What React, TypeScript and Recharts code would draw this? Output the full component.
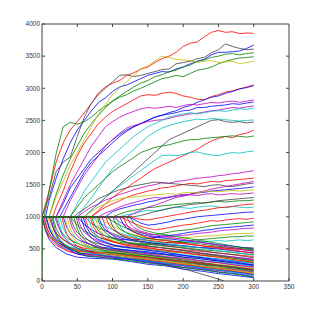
import { LineChart, Line, XAxis, YAxis, ReferenceLine } from "recharts";

const xTicks = [0, 50, 100, 150, 200, 250, 300, 350];
const yTicks = [0, 500, 1000, 1500, 2000, 2500, 3000, 3500, 4000];
const xMax = 350;
const yMax = 4000;

const initialLevel = 1000;
const gridStep = 10;

const palette: Record<string, string> = {
  r: "#ff0000",
  g: "#008000",
  b: "#0000ff",
  c: "#00bfbf",
  m: "#bf00bf",
  y: "#bfbf00",
  k: "#404040",
};

// upper group: flat at 1000 until start, then values on the 10-step grid
const riserStarts = [0, 5, 0, 10, 3, 10, 15, 20, 20, 25, 30, 40, 50, 60, 70, 40, 60];
const riserColors = "rbkggyrbmbmcckrgc";
const riserValues = [
  [1400, 1850, 2150, 2350, 2480, 2620, 2760, 2930, 3020, 3080, 3120, 3200, 3240, 3300, 3330, 3400, 3460, 3500, 3560, 3650, 3700, 3720, 3800, 3870, 3900, 3870, 3880, 3850, 3860, 3855],
  [1250, 1600, 1900, 2150, 2350, 2500, 2650, 2780, 2850, 2950, 3020, 3050, 3100, 3150, 3200, 3230, 3260, 3250, 3300, 3330, 3380, 3420, 3450, 3520, 3560, 3560, 3570, 3580, 3620, 3673],
  [1300, 1700, 1850, 1930, 2250, 2550, 2770, 2900, 3000, 3100, 3200, 3210, 3180, 3200, 3230, 3260, 3290, 3300, 3380, 3400, 3420, 3460, 3480, 3550, 3600, 3690, 3650, 3620, 3600, 3610],
  [1350, 1650, 1900, 2100, 2300, 2450, 2580, 2700, 2800, 2880, 2950, 3020, 3080, 3120, 3180, 3210, 3260, 3280, 3330, 3360, 3420, 3440, 3480, 3500, 3530, 3540, 3520, 3540, 3553],
  [1400, 1980, 2400, 2470, 2440, 2480, 2550, 2650, 2720, 2800, 2860, 2900, 2960, 3000, 3050, 3100, 3150, 3170, 3200, 3180, 3230, 3280, 3300, 3330, 3380, 3420, 3450, 3470, 3480, 3490],
  [1300, 1550, 1800, 2000, 2200, 2400, 2600, 2750, 2900, 3000, 3100, 3200, 3300, 3350, 3420, 3500, 3480, 3450, 3440, 3430, 3400, 3420, 3430, 3400, 3410, 3420, 3380, 3400, 3424],
  [1150, 1400, 1700, 1950, 2150, 2300, 2450, 2550, 2640, 2700, 2760, 2820, 2880, 2900, 2890, 2920, 2940, 2920, 2880, 2860, 2830, 2820, 2870, 2900, 2940, 2960, 2990, 3020, 3050],
  [1200, 1450, 1600, 1750, 1900, 2000, 2100, 2200, 2280, 2350, 2400, 2450, 2500, 2550, 2580, 2620, 2650, 2700, 2730, 2780, 2820, 2860, 2880, 2920, 2950, 2990, 3010, 3040],
  [1250, 1500, 1700, 1900, 2100, 2250, 2400, 2480, 2550, 2600, 2640, 2680, 2700, 2690, 2700, 2720, 2700, 2730, 2750, 2740, 2760, 2780, 2770, 2790, 2800, 2780, 2800, 2817],
  [1100, 1300, 1500, 1700, 1850, 1950, 2050, 2150, 2250, 2330, 2400, 2450, 2500, 2550, 2580, 2600, 2620, 2650, 2660, 2700, 2700, 2720, 2730, 2740, 2760, 2750, 2770, 2786],
  [1250, 1450, 1650, 1800, 1950, 2100, 2200, 2300, 2380, 2420, 2450, 2480, 2500, 2510, 2530, 2560, 2580, 2600, 2610, 2630, 2650, 2660, 2680, 2700, 2690, 2710, 2724],
  [1200, 1400, 1550, 1700, 1850, 1950, 2050, 2150, 2250, 2330, 2400, 2450, 2500, 2550, 2580, 2600, 2620, 2600, 2620, 2640, 2650, 2640, 2660, 2680, 2670, 2692],
  [1150, 1300, 1450, 1600, 1750, 1850, 1950, 2050, 2150, 2250, 2320, 2380, 2420, 2450, 2480, 2500, 2520, 2510, 2530, 2520, 2510, 2500, 2490, 2500, 2506],
  [1100, 1200, 1300, 1400, 1500, 1600, 1700, 1800, 1900, 2000, 2100, 2200, 2250, 2300, 2350, 2400, 2450, 2500, 2510, 2480, 2470, 2480, 2460, 2475],
  [1100, 1200, 1300, 1380, 1450, 1530, 1600, 1680, 1750, 1800, 1850, 1900, 1950, 2000, 2050, 2120, 2180, 2220, 2250, 2230, 2280, 2300, 2350],
  [1150, 1300, 1400, 1500, 1600, 1700, 1780, 1850, 1920, 2000, 2040, 2080, 2100, 2120, 2150, 2180, 2200, 2200, 2220, 2230, 2240, 2250, 2260, 2250, 2240, 2257],
  [1100, 1200, 1300, 1400, 1480, 1560, 1640, 1720, 1800, 1880, 1950, 1960, 1950, 1970, 2000, 2010, 1980, 1960, 1950, 1980, 2000, 1990, 2010, 2023],
];

// middle group, same layout
const middleStarts = [50, 70, 45, 90, 80, 100, 110, 120, 110, 90, 100, 80, 70, 60, 120, 60, 130, 125, 50, 40];
const middleColors = "mrkbmgcbrgmyckmykrbg";
const middleValues = [
  [1080, 1150, 1200, 1260, 1300, 1350, 1380, 1420, 1450, 1480, 1500, 1530, 1520, 1550, 1560, 1580, 1600, 1610, 1620, 1640, 1650, 1670, 1680, 1700, 1717],
  [1080, 1150, 1200, 1250, 1300, 1340, 1370, 1400, 1420, 1450, 1460, 1480, 1500, 1520, 1510, 1530, 1550, 1540, 1560, 1570, 1580, 1590, 1600],
  [1050, 1120, 1200, 1280, 1330, 1380, 1420, 1450, 1480, 1500, 1520, 1540, 1530, 1520, 1510, 1500, 1490, 1480, 1470, 1490, 1500, 1480, 1470, 1490, 1510, 1525],
  [1080, 1120, 1150, 1180, 1200, 1230, 1250, 1280, 1300, 1320, 1330, 1350, 1370, 1380, 1400, 1410, 1420, 1430, 1440, 1450, 1465],
  [1060, 1100, 1150, 1190, 1220, 1250, 1280, 1300, 1290, 1310, 1330, 1350, 1340, 1330, 1350, 1360, 1340, 1350, 1360, 1350, 1360, 1370],
  [1040, 1080, 1100, 1120, 1140, 1150, 1170, 1180, 1190, 1200, 1210, 1220, 1210, 1230, 1240, 1230, 1240, 1250, 1250, 1260],
  [1030, 1050, 1080, 1100, 1090, 1110, 1130, 1150, 1140, 1130, 1150, 1160, 1170, 1150, 1140, 1160, 1150, 1140, 1150],
  [960, 900, 870, 880, 900, 920, 950, 960, 980, 1000, 1010, 1020, 1030, 1040, 1050, 1060, 1070, 1075],
  [950, 900, 850, 820, 800, 810, 830, 850, 870, 880, 900, 920, 940, 930, 950, 960, 970, 960, 980],
  [930, 870, 820, 780, 750, 730, 720, 740, 760, 780, 790, 800, 820, 840, 860, 870, 880, 890, 900, 910, 920],
  [920, 860, 800, 760, 720, 690, 680, 690, 700, 710, 720, 740, 750, 760, 780, 790, 800, 810, 820, 825],
  [920, 860, 800, 760, 720, 690, 660, 640, 640, 650, 660, 670, 680, 690, 700, 700, 710, 720, 730, 740, 740, 745],
  [920, 850, 800, 750, 710, 680, 650, 630, 610, 600, 600, 590, 600, 600, 610, 620, 620, 630, 620, 630, 640, 630, 640],
  [900, 830, 780, 740, 700, 670, 640, 620, 600, 580, 570, 560, 550, 540, 530, 520, 520, 510, 520, 510, 500, 510, 520, 515],
  [1050, 1100, 1150, 1180, 1220, 1260, 1300, 1320, 1350, 1380, 1400, 1430, 1450, 1470, 1490, 1510, 1530, 1550],
  [1080, 1150, 1200, 1250, 1280, 1300, 1310, 1320, 1330, 1340, 1350, 1360, 1350, 1370, 1380, 1370, 1390, 1400, 1390, 1400, 1410, 1400, 1410, 1420],
  [1020, 1050, 1080, 1100, 1130, 1150, 1170, 1190, 1200, 1220, 1230, 1250, 1260, 1270, 1280, 1290, 1300],
  [980, 960, 950, 970, 990, 1010, 1030, 1050, 1070, 1090, 1100, 1120, 1140, 1150, 1160, 1180, 1190, 1200],
  [880, 800, 740, 700, 670, 650, 640, 640, 650, 660, 680, 700, 710, 720, 740, 760, 770, 790, 800, 820, 830, 840, 850, 860, 870],
  [870, 780, 720, 680, 650, 620, 600, 590, 580, 570, 570, 580, 590, 600, 610, 620, 630, 640, 650, 660, 670, 680, 690, 690, 700, 700],
];

// lower bundle: t, value pairs
const decayColors = "brkgmcyrbkgmcrbykgmbrcgybmrkgcbrmrbgcymkbrgg";
const decayPaths = [
  [0, 1000, 5, 780, 10, 650, 20, 520, 35, 420, 50, 370, 75, 350, 100, 340, 125, 305, 150, 260, 175, 235, 200, 185, 225, 155, 250, 115, 275, 85, 300, 50],
  [0, 1000, 5, 800, 10, 680, 20, 560, 35, 470, 50, 430, 75, 405, 100, 380, 125, 355, 150, 320, 175, 295, 200, 250, 225, 225, 250, 180, 275, 155, 300, 120],
  [0, 1000, 5, 1000, 10, 820, 15, 720, 25, 600, 40, 520, 55, 480, 75, 455, 100, 420, 125, 375, 146, 327, 167, 275, 190, 215, 210, 160, 230, 95, 250, 30, 258, 0],
  [0, 1000, 5, 820, 10, 700, 20, 590, 35, 500, 50, 460, 75, 435, 100, 410, 125, 385, 150, 350, 175, 325, 200, 280, 225, 255, 250, 210, 275, 185, 300, 150],
  [0, 1000, 3, 1000, 8, 800, 13, 690, 23, 560, 38, 460, 53, 410, 75, 395, 100, 370, 125, 335, 150, 300, 175, 265, 200, 230, 225, 195, 250, 160, 275, 135, 300, 90],
  [0, 1000, 5, 1000, 10, 830, 15, 720, 25, 610, 40, 530, 55, 490, 75, 470, 100, 445, 125, 410, 150, 385, 175, 350, 200, 315, 225, 280, 250, 255, 275, 220, 300, 190],
  [0, 1000, 8, 1000, 13, 810, 18, 700, 28, 580, 43, 490, 58, 450, 75, 430, 100, 405, 125, 370, 150, 345, 175, 300, 200, 275, 225, 230, 250, 205, 275, 160, 300, 130],
  [0, 1000, 10, 1000, 15, 840, 20, 740, 30, 640, 45, 560, 60, 510, 75, 490, 100, 465, 125, 430, 150, 405, 175, 370, 200, 345, 225, 310, 250, 285, 275, 250, 300, 220],
  [0, 1000, 12, 1000, 17, 790, 22, 670, 32, 540, 47, 430, 62, 390, 80, 370, 100, 355, 125, 335, 150, 290, 175, 255, 200, 210, 225, 185, 250, 140, 275, 115, 300, 70],
  [0, 1000, 15, 1000, 20, 820, 25, 710, 35, 600, 50, 510, 65, 470, 80, 450, 100, 435, 125, 400, 150, 375, 175, 330, 200, 305, 225, 260, 250, 235, 275, 200, 300, 170],
  [0, 1000, 18, 1000, 23, 850, 28, 750, 38, 650, 53, 570, 68, 530, 80, 515, 100, 490, 125, 465, 150, 430, 175, 405, 200, 370, 225, 345, 250, 310, 275, 285, 300, 250],
  [0, 1000, 20, 1000, 25, 800, 30, 690, 40, 580, 55, 480, 70, 440, 90, 425, 110, 400, 130, 375, 150, 340, 175, 305, 200, 270, 225, 235, 250, 200, 275, 175, 300, 140],
  [0, 1000, 25, 1000, 30, 822, 35, 720, 45, 617, 60, 541, 75, 490, 100, 465, 125, 430, 150, 410, 175, 372, 200, 350, 225, 315, 250, 295, 275, 258, 300, 230],
  [0, 1000, 28, 1000, 33, 793, 38, 675, 48, 557, 63, 469, 78, 410, 100, 388, 125, 352, 150, 325, 175, 283, 200, 255, 225, 218, 250, 185, 275, 148, 300, 110],
  [0, 1000, 30, 1000, 35, 836, 40, 742, 50, 648, 65, 577, 80, 530, 100, 508, 125, 478, 150, 455, 175, 420, 200, 398, 225, 365, 250, 342, 275, 310, 300, 280],
  [0, 1000, 35, 1000, 40, 815, 45, 709, 55, 603, 70, 523, 85, 470, 100, 458, 125, 420, 150, 395, 175, 355, 200, 330, 225, 290, 250, 262, 275, 225, 300, 190],
  [0, 1000, 40, 1000, 45, 843, 50, 753, 60, 663, 75, 595, 90, 550, 100, 543, 125, 515, 150, 490, 175, 462, 200, 435, 225, 405, 250, 382, 275, 350, 300, 320],
  [0, 1000, 45, 1000, 50, 808, 55, 698, 65, 588, 80, 505, 95, 450, 125, 413, 150, 372, 175, 342, 200, 300, 225, 272, 250, 230, 275, 200, 300, 160],
  [0, 1000, 50, 1000, 55, 846, 60, 758, 70, 670, 85, 604, 100, 560, 125, 533, 150, 505, 175, 480, 200, 450, 225, 425, 250, 395, 275, 370, 300, 340],
  [0, 1000, 55, 1000, 60, 825, 65, 725, 75, 625, 90, 550, 105, 500, 125, 478, 150, 440, 175, 414, 200, 375, 225, 345, 250, 310, 275, 276, 300, 240],
  [0, 1000, 60, 1000, 65, 853, 70, 769, 80, 685, 95, 622, 110, 580, 125, 568, 150, 535, 175, 515, 200, 485, 225, 462, 250, 435, 275, 410, 300, 380],
  [0, 1000, 65, 1000, 70, 832, 75, 736, 85, 640, 100, 568, 115, 520, 125, 510, 150, 478, 175, 445, 200, 410, 225, 377, 250, 340, 275, 310, 300, 270],
  [0, 1000, 70, 1000, 75, 860, 80, 780, 90, 700, 105, 640, 120, 600, 150, 572, 175, 540, 200, 520, 225, 488, 250, 465, 275, 438, 300, 410],
  [0, 1000, 75, 1000, 80, 839, 85, 747, 95, 655, 110, 586, 125, 540, 150, 510, 175, 470, 200, 442, 225, 400, 250, 374, 275, 332, 300, 300],
  [0, 1000, 80, 1000, 85, 867, 90, 791, 100, 715, 115, 658, 130, 620, 150, 603, 175, 570, 200, 552, 225, 520, 250, 498, 275, 465, 300, 440],
  [0, 1000, 85, 1000, 90, 846, 95, 758, 105, 670, 120, 604, 135, 560, 150, 543, 175, 508, 200, 474, 225, 438, 250, 404, 275, 368, 300, 330],
  [0, 1000, 90, 1000, 95, 874, 100, 802, 110, 730, 125, 676, 140, 640, 150, 634, 175, 600, 200, 582, 225, 548, 250, 528, 275, 495, 300, 470],
  [0, 1000, 95, 1000, 100, 857, 105, 775, 115, 693, 130, 631, 145, 590, 175, 550, 200, 510, 225, 474, 250, 435, 275, 402, 300, 360],
  [0, 1000, 100, 1000, 105, 881, 110, 813, 120, 745, 135, 694, 150, 660, 175, 635, 200, 600, 225, 576, 250, 540, 275, 515, 300, 480],
  [0, 1000, 105, 1000, 110, 863, 115, 785, 125, 708, 140, 649, 155, 610, 175, 585, 200, 545, 225, 514, 250, 472, 275, 442, 300, 400],
  [0, 1000, 110, 1000, 115, 888, 120, 824, 130, 760, 145, 712, 160, 680, 175, 665, 200, 628, 225, 602, 250, 565, 275, 536, 300, 500],
  [0, 1000, 115, 1000, 120, 874, 125, 802, 135, 730, 150, 676, 165, 640, 175, 628, 200, 588, 225, 552, 250, 508, 275, 474, 300, 430],
  [0, 1000, 120, 1000, 125, 895, 130, 835, 140, 775, 155, 730, 170, 700, 200, 648, 225, 600, 250, 556, 275, 508, 300, 460],
  [0, 1000, 2, 1000, 7, 815, 12, 709, 22, 603, 37, 523, 52, 470, 75, 450, 100, 420, 125, 393, 150, 362, 175, 335, 200, 300, 225, 278, 250, 240, 275, 215, 300, 180],
  [0, 1000, 6, 1000, 11, 800, 16, 687, 26, 572, 41, 487, 56, 430, 75, 415, 100, 378, 125, 344, 150, 310, 175, 276, 200, 240, 225, 208, 250, 170, 275, 138, 300, 100],
  [0, 1000, 14, 1000, 19, 786, 24, 664, 34, 543, 49, 451, 64, 390, 75, 382, 100, 350, 125, 315, 150, 280, 175, 246, 200, 210, 225, 176, 250, 138, 275, 104, 300, 60],
  [0, 1000, 22, 1000, 27, 797, 32, 681, 42, 565, 57, 478, 72, 420, 100, 388, 125, 350, 150, 315, 175, 278, 200, 244, 225, 205, 250, 172, 275, 130, 300, 90],
  [0, 1000, 32, 1000, 37, 804, 42, 692, 52, 580, 67, 496, 82, 440, 100, 418, 125, 380, 150, 344, 175, 305, 200, 272, 225, 232, 250, 198, 275, 158, 300, 120],
  [0, 1000, 38, 1000, 43, 825, 48, 725, 58, 625, 73, 550, 88, 500, 100, 488, 125, 452, 150, 422, 175, 382, 200, 354, 225, 315, 250, 285, 275, 245, 300, 210],
  [0, 1000, 48, 1000, 53, 818, 58, 714, 68, 610, 83, 532, 98, 480, 125, 443, 150, 402, 175, 366, 200, 325, 225, 289, 250, 248, 275, 214, 300, 170],
  [0, 1000, 58, 1000, 63, 839, 68, 747, 78, 655, 93, 586, 108, 540, 125, 518, 150, 478, 175, 444, 200, 400, 225, 366, 250, 325, 275, 292, 300, 250],
  [0, 1000, 68, 1000, 73, 846, 78, 758, 88, 670, 103, 604, 118, 560, 150, 518, 175, 478, 200, 444, 225, 402, 250, 369, 275, 328, 300, 290],
  [0, 1000, 78, 1000, 83, 853, 88, 769, 98, 685, 113, 622, 128, 580, 150, 548, 175, 508, 200, 474, 225, 430, 250, 394, 275, 350, 300, 310],
  [0, 0, 1, 1000, 125, 1000, 130, 902, 135, 846, 145, 790, 160, 748, 175, 720, 200, 675, 225, 628, 250, 585, 275, 535, 300, 490],
];

type Pt = { t: number; v: number };

function gridPath(start: number, values: number[]): Pt[] {
  const pts: Pt[] = [{ t: 0, v: initialLevel }];
  if (start > 0) pts.push({ t: start, v: initialLevel });
  const first = Math.floor(start / gridStep) * gridStep + gridStep;
  values.forEach((v, i) => pts.push({ t: first + gridStep * i, v }));
  return pts;
}

function pairPath(flat: number[]): Pt[] {
  const pts: Pt[] = [];
  for (let i = 0; i < flat.length; i += 2) pts.push({ t: flat[i], v: flat[i + 1] });
  return pts;
}

const series = [
  ...riserValues.map((vals, i) => ({ pts: gridPath(riserStarts[i], vals), color: palette[riserColors[i]] })),
  ...middleValues.map((vals, i) => ({ pts: gridPath(middleStarts[i], vals), color: palette[middleColors[i]] })),
  ...decayPaths.map((flat, i) => ({ pts: pairPath(flat), color: palette[decayColors[i]] })),
];

const axisColor = "#444";
const tickStyle = { fill: "#333", fontSize: 6.5, fontFamily: "Liberation Sans, Arial, sans-serif" };
// inward tick length for the top and right edges, in data units (~3px)
const topTickLen = 47;
const rightTickLen = 4.2;

export default function App() {
  return (
    <div style={{ position: "absolute", left: 0, top: 0, background: "#fff" }}>
      <LineChart width={320} height={316} margin={{ top: 24, right: 31, bottom: 15, left: 0 }}>
        <XAxis
          dataKey="t"
          type="number"
          domain={[0, xMax]}
          ticks={xTicks}
          interval={0}
          allowDataOverflow
          height={20}
          tickSize={-3}
          tickMargin={6}
          stroke={axisColor}
          tick={tickStyle}
        />
        <YAxis
          type="number"
          domain={[0, yMax]}
          ticks={yTicks}
          interval={0}
          allowDataOverflow
          width={42}
          tickSize={-3}
          tickMargin={5}
          stroke={axisColor}
          tick={tickStyle}
        />
        {series.map((s, i) => (
          <Line
            key={i}
            data={s.pts}
            dataKey="v"
            type="linear"
            stroke={s.color}
            strokeWidth={0.8}
            dot={false}
            activeDot={false}
            isAnimationActive={false}
          />
        ))}
        <ReferenceLine y={yMax} stroke={axisColor} ifOverflow="visible" />
        <ReferenceLine x={xMax} stroke={axisColor} ifOverflow="visible" />
        {xTicks.slice(1, -1).map((x) => (
          <ReferenceLine
            key={`tx${x}`}
            segment={[{ x, y: yMax }, { x, y: yMax - topTickLen }]}
            stroke={axisColor}
            ifOverflow="visible"
          />
        ))}
        {yTicks.slice(1, -1).map((y) => (
          <ReferenceLine
            key={`ty${y}`}
            segment={[{ x: xMax, y }, { x: xMax - rightTickLen, y }]}
            stroke={axisColor}
            ifOverflow="visible"
          />
        ))}
      </LineChart>
    </div>
  );
}
